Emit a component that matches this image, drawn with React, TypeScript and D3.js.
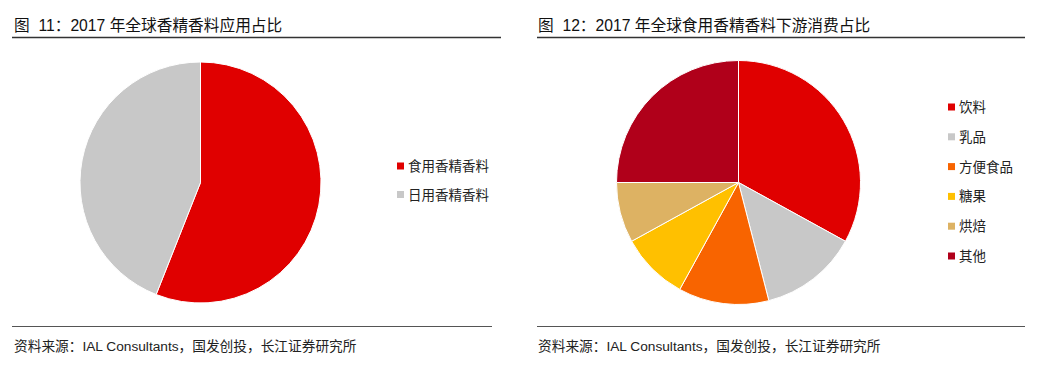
import React, { useRef, useEffect } from "react";
import * as d3 from "d3";

// left chart: application split
const appCategories = ["食用香精香料", "日用香精香料"];
const appValues = [56, 44];
const appColors = ["#E00000", "#C8C8C8"];

// right chart: downstream consumption of food flavours
const useCategories = ["饮料", "乳品", "方便食品", "糖果", "烘焙", "其他"];
const useValues = [33, 13, 12, 9, 8, 25];
const useColors = ["#E00000", "#C8C8C8", "#F86400", "#FFC000", "#DDB263", "#B0001A"];

const titles = ["图  11：2017 年全球香精香料应用占比", "图  12：2017 年全球食用香精香料下游消费占比"];
const sourceText = "资料来源：IAL Consultants，国发创投，长江证券研究所";

const FONT = "'Liberation Sans', Arial, 'Noto Sans CJK SC', sans-serif";

function App() {
  const svgRef = useRef<SVGSVGElement>(null);

  useEffect(() => {
    const svg = d3.select(svgRef.current);
    svg.selectAll("*").remove();

    const panels = [
      { x0: 12, x1: 501, fx1: 492, tx: 14, cx: 200.5, cy: 182.5, r: 120.5, cats: appCategories, vals: appValues, cols: appColors, lx: 397, ly: 166, step: 28.5, title: titles[0] },
      { x0: 537, x1: 1025, fx1: 1025, tx: 538, cx: 738.5, cy: 182.5, r: 122, cats: useCategories, vals: useValues, cols: useColors, lx: 948, ly: 107, step: 29.8, title: titles[1] },
    ];

    panels.forEach((p) => {
      const g = svg.append("g");

      // title + rule
      g.append("text")
        .attr("x", p.tx)
        .attr("y", 31)
        .attr("font-size", 15.7)
        .attr("fill", "#111")
        .style("white-space", "pre")
        .text(p.title);
      g.append("line")
        .attr("x1", p.x0).attr("x2", p.x1)
        .attr("y1", 37.5).attr("y2", 37.5)
        .attr("stroke", "#333").attr("stroke-width", 1.3);

      // pie
      const pie = d3.pie<number>().sort(null).value((d) => d);
      const arc = d3.arc<d3.PieArcDatum<number>>().innerRadius(0).outerRadius(p.r);
      const color = d3.scaleOrdinal<number, string>().domain(d3.range(p.vals.length)).range(p.cols);

      g.append("g")
        .attr("transform", `translate(${p.cx},${p.cy})`)
        .selectAll("path")
        .data(pie(p.vals))
        .join("path")
        .attr("d", arc)
        .attr("fill", (d, i) => color(i))
        .attr("stroke", "#fff")
        .attr("stroke-width", 1);

      // legend
      const y = d3.scalePoint<string>().domain(p.cats).range([p.ly, p.ly + p.step * (p.cats.length - 1)]);
      const leg = g.selectAll(".leg").data(p.cats).join("g").attr("class", "leg")
        .attr("transform", (d) => `translate(${p.lx},${y(d)})`);
      leg.append("rect")
        .attr("x", 0).attr("y", -3.5)
        .attr("width", 7).attr("height", 7)
        .attr("fill", (d, i) => color(i));
      leg.append("text")
        .attr("x", 11).attr("y", 5)
        .attr("font-size", 13.5)
        .attr("fill", "#222")
        .text((d) => d);

      // footer
      g.append("line")
        .attr("x1", p.x0).attr("x2", p.fx1)
        .attr("y1", 326.5).attr("y2", 326.5)
        .attr("stroke", "#555").attr("stroke-width", 1);
      g.append("text")
        .attr("x", p.tx)
        .attr("y", 351)
        .attr("font-size", 13.7)
        .attr("fill", "#222")
        .text(sourceText);
    });
  }, []);

  return (
    <svg
      ref={svgRef}
      width={1062}
      height={366}
      style={{ position: "absolute", left: 0, top: 0, background: "#fff", fontFamily: FONT }}
    />
  );
}

export default App;
